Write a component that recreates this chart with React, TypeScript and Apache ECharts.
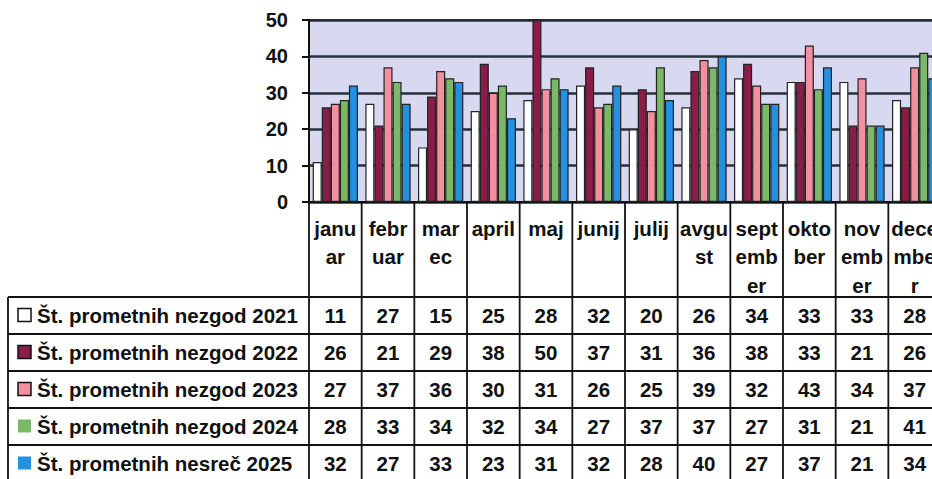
import React, { useEffect, useRef } from 'react';
import * as echarts from 'echarts';

const months = ['janu\nar', 'febr\nuar', 'mar\nec', 'april', 'maj', 'junij', 'julij', 'avgu\nst', 'sept\nemb\ner', 'okto\nber', 'nov\nemb\ner', 'dece\nmbe\nr'];
const seriesNames = [
  'Št. prometnih nezgod 2021',
  'Št. prometnih nezgod 2022',
  'Št. prometnih nezgod 2023',
  'Št. prometnih nezgod 2024',
  'Št. prometnih nesreč 2025',
];
const y2021 = [11, 27, 15, 25, 28, 32, 20, 26, 34, 33, 33, 28];
const y2022 = [26, 21, 29, 38, 50, 37, 31, 36, 38, 33, 21, 26];
const y2023 = [27, 37, 36, 30, 31, 26, 25, 39, 32, 43, 34, 37];
const y2024 = [28, 33, 34, 32, 34, 27, 37, 37, 27, 31, 21, 41];
const y2025 = [32, 27, 33, 23, 31, 32, 28, 40, 27, 37, 21, 34];
const yMin = 0;
const yMax = 50;
const yStep = 10;

const seriesValues = [y2021, y2022, y2023, y2024, y2025];
const colors = ['#ffffff', '#8a1c48', '#f2909f', '#79b968', '#2390e0'];
const keyBorders = ['#111', '#111', '#111', null, null];

const FONT = '"Liberation Sans", Arial, sans-serif';

export default function App() {
  const ref = useRef<HTMLDivElement>(null);
  useEffect(() => {
    if (!ref.current) return;
    const chart = echarts.init(ref.current, null, { renderer: 'svg' });
    chart.setOption({
      animation: false,
      backgroundColor: '#ffffff',
      grid: {
        left: 309,
        right: 3,
        top: 20,
        bottom: 277,
        show: true,
        backgroundColor: '#d8d8f1',
        borderColor: '#111',
        borderWidth: 2,
      },
      xAxis: {
        type: 'category',
        data: months,
        axisLabel: { show: false },
        axisTick: { show: false },
        axisLine: { show: true, lineStyle: { color: '#111', width: 2 } },
        splitLine: { show: false },
      },
      yAxis: {
        type: 'value',
        min: yMin,
        max: yMax,
        interval: yStep,
        axisLine: { show: true, lineStyle: { color: '#111', width: 2 } },
        axisTick: { show: true, length: 7, lineStyle: { color: '#111', width: 2 } },
        axisLabel: {
          color: '#111',
          fontSize: 20,
          fontWeight: 'bold',
          fontFamily: FONT,
          margin: 21,
        },
        splitLine: { show: true, lineStyle: { color: '#26303a', width: 2.5 } },
      },
      series: seriesValues.map((vals, i) => ({
        name: seriesNames[i],
        type: 'bar',
        data: vals,
        barGap: '0%',
        barCategoryGap: '14%',
        itemStyle: { color: colors[i], borderColor: '#222', borderWidth: 1.2 },
      })),
    });

    const c0 = chart.convertToPixel({ xAxisIndex: 0 }, 0) as number;
    const c1 = chart.convertToPixel({ xAxisIndex: 0 }, 1) as number;
    const band = c1 - c0;
    const yZero = chart.convertToPixel({ yAxisIndex: 0 }, yMin) as number;
    const headerBottom = 297;
    const rowH = 37;
    const tableLeft = 8;
    const rightEdge = 944;
    const bottomEdge = 500;
    const lineStyle = { stroke: '#111', lineWidth: 1.8 };
    const textBase = {
      fill: '#111',
      fontSize: 20.5,
      fontWeight: 'bold',
      fontFamily: FONT,
    };

    const g: any[] = [];
    for (let i = 0; i <= months.length; i++) {
      const x = c0 - band / 2 + i * band;
      g.push({ type: 'line', silent: true, shape: { x1: x, y1: yZero, x2: x, y2: bottomEdge }, style: lineStyle });
    }
    g.push({ type: 'line', silent: true, shape: { x1: tableLeft, y1: headerBottom, x2: tableLeft, y2: bottomEdge }, style: lineStyle });
    for (let r = 0; r <= seriesNames.length; r++) {
      const y = headerBottom + r * rowH;
      g.push({ type: 'line', silent: true, shape: { x1: tableLeft, y1: y, x2: rightEdge, y2: y }, style: lineStyle });
    }
    months.forEach((m, i) => {
      const cx = chart.convertToPixel({ xAxisIndex: 0 }, i) as number;
      g.push({
        type: 'text',
        silent: true,
        style: { ...textBase, text: m, x: cx, y: 214, align: 'center', verticalAlign: 'top', lineHeight: 28.5 },
      });
    });
    seriesNames.forEach((name, r) => {
      const cy = headerBottom + r * rowH + rowH / 2;
      g.push({
        type: 'rect',
        silent: true,
        shape: { x: 18, y: cy - 7, width: 13, height: 13 },
        style: { fill: colors[r], stroke: keyBorders[r] || colors[r], lineWidth: keyBorders[r] ? 1.5 : 0 },
      });
      g.push({
        type: 'text',
        silent: true,
        style: { ...textBase, text: name, x: 37, y: cy, align: 'left', verticalAlign: 'middle' },
      });
      seriesValues[r].forEach((v, i) => {
        const cx = chart.convertToPixel({ xAxisIndex: 0 }, i) as number;
        g.push({
          type: 'text',
          silent: true,
          style: { ...textBase, text: String(v), x: cx, y: cy, align: 'center', verticalAlign: 'middle' },
        });
      });
    });
    chart.setOption({ graphic: g });

    return () => chart.dispose();
  }, []);

  return (
    <div style={{ position: 'fixed', left: 0, top: 0, width: 932, height: 479, overflow: 'hidden', background: '#fff' }}>
      <div ref={ref} style={{ width: 944, height: 479 }} />
    </div>
  );
}
